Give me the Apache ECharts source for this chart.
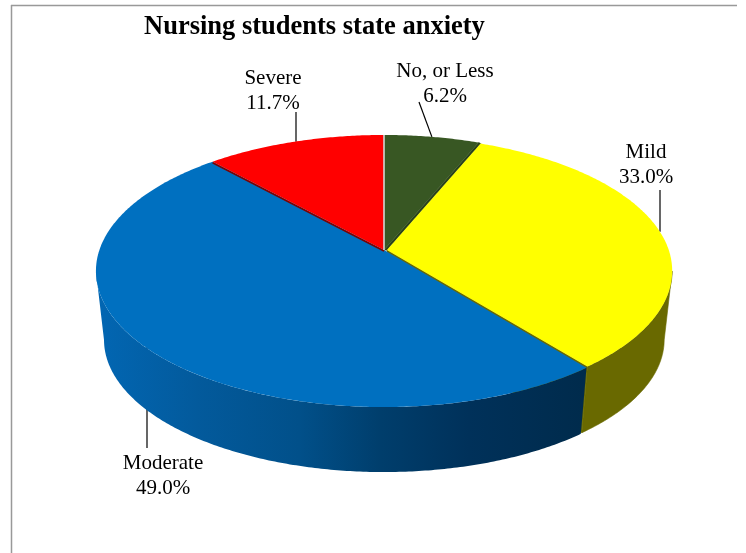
<!DOCTYPE html>
<html>
<head>
<meta charset="utf-8">
<style>html,body{margin:0;padding:0;background:#fff}#c{width:746px;height:553px}</style>
<script src="https://cdn.jsdelivr.net/npm/echarts@6/dist/echarts.min.js"></script>
</head>
<body>
<div id="c"></div>
<script>
var categories = ['No, or Less', 'Mild', 'Moderate', 'Severe'];
var values = [6.2, 33.0, 49.0, 11.7];
var topColors = ['#385723', '#ffff00', '#0070c0', '#ff0000'];
var titleText = 'Nursing students state anxiety';

var total = values.reduce(function (a, b) { return a + b; }, 0);
var FONT = '"Liberation Serif","Times New Roman",serif';
// view geometry of the tilted disc
var CX = 384, CY = 250, A = 284.6, B = 132.8, K = 0.1544, DEPTH_Y = 69.4, BOTTOM_SCALE = 0.972;
var sliceShift = [0, 3, 0, 0];
var sliceScale = [1, 0.99, 1, 1];
var innerWall = [null, '#696900', null, null];
var edgeLine = [null, null, null, '#7d0000'];
var wallColor = [null, '#696900', {
  type: 'linear', x: 100, y: 0, x2: 585, y2: 0, global: true,
  colorStops: [
    { offset: 0, color: '#0266b2' }, { offset: 0.2, color: '#035a9c' },
    { offset: 0.41, color: '#01508a' }, { offset: 0.58, color: '#003e6c' },
    { offset: 0.76, color: '#00315a' }, { offset: 1, color: '#002b4c' }
  ]
}, null];
var labelLayout = [
  { x: 445, y: 83.5, lx: 419, ly: 102, vertical: false },
  { x: 646, y: 165, lx: 660, ly: 190, vertical: true },
  { x: 163, y: 476, lx: 147, ly: 448, vertical: true },
  { x: 273, y: 91, lx: 296, ly: 112, vertical: true }
];

function project(theta, i, lower) {
  var u = Math.sin(theta), v = -Math.cos(theta), w = 1 - K * v;
  var s = (lower ? BOTTOM_SCALE : 1) * sliceScale[i];
  return [CX + sliceShift[i] + s * A * u / w, CY + (lower ? DEPTH_Y : 0) + s * B * v / w];
}
function apex(i, lower) {
  return [CX + sliceShift[i], CY + (lower ? DEPTH_Y : 0)];
}
function arc(t0, t1, i, lower) {
  var pts = [], n = Math.max(2, Math.ceil(Math.abs(t1 - t0) / 0.01));
  for (var j = 0; j <= n; j++) pts.push(project(t0 + (t1 - t0) * j / n, i, lower));
  return pts;
}
// the wall is seen between the two points where the rim turns back
var VIS0 = 99 * Math.PI / 180, VIS1 = 261 * Math.PI / 180;

function renderItem(params, api) {
  var i = params.dataIndex, val = api.value(0), before = 0;
  for (var q = 0; q < i; q++) before += values[q];
  var t0 = before / total * 2 * Math.PI, t1 = (before + val) / total * 2 * Math.PI;
  var kids = [], base = 10 + i * 10;
  var mid = (t0 + t1) / 2, anchor = project(mid, i, false), lay = labelLayout[i];
  // leader
  kids.push({ type: 'line', z2: 1, silent: true,
    shape: { x1: lay.vertical ? lay.lx : anchor[0], y1: anchor[1], x2: lay.lx, y2: lay.ly },
    style: { stroke: '#000', lineWidth: 1.2 } });
  // outer wall
  var w0 = Math.max(t0, VIS0), w1 = Math.min(t1, VIS1);
  if (wallColor[i] && w1 > w0) {
    var flat = typeof wallColor[i] === 'string';
    kids.push({ type: 'polygon', z2: base, silent: true,
      shape: { points: arc(w0, w1, i, false).concat(arc(w0, w1, i, true).reverse()) },
      style: { fill: wallColor[i], stroke: flat ? wallColor[i] : null, lineWidth: flat ? 0.6 : 0 } });
  }
  // inner wall exposed by the slice shift
  if (innerWall[i]) {
    kids.push({ type: 'polygon', z2: base + 1, silent: true,
      shape: { points: [apex(i, false), project(t1, i, false), project(t1, i, true), apex(i, true)] },
      style: { fill: innerWall[i], stroke: innerWall[i], lineWidth: 0.6 } });
  }
  // dark wedge between the first slice and the shifted next one
  if (i === 0) {
    kids.push({ type: 'polygon', z2: 40, silent: true,
      shape: { points: [apex(0), project(t1, 0), project(t1, 1), apex(1)] },
      style: { fill: '#2b431a', stroke: '#2b431a', lineWidth: 0.6 } });
  }
  // top
  kids.push({ type: 'polygon', z2: i === 1 ? 45 : base + 2 + (i === 0 ? 30 : 0), silent: true,
    shape: { points: [apex(i, false)].concat(arc(t0, t1, i, false)) },
    style: { fill: topColors[i] } });
  // edge shading
  if (edgeLine[i]) {
    kids.push({ type: 'line', z2: base + 3, silent: true,
      shape: { x1: apex(i)[0], y1: apex(i)[1] + 1, x2: project(t0, i)[0], y2: project(t0, i)[1] + 1 },
      style: { stroke: edgeLine[i], lineWidth: 1.6 } });
  }
  if (i === 3) {
    var e = project(t1, i);
    kids.push({ type: 'line', z2: base + 4, silent: true,
      shape: { x1: apex(i)[0], y1: apex(i)[1], x2: e[0], y2: e[1] },
      style: { stroke: '#d4d4d4', lineWidth: 1.6 } });
  }
  // label
  kids.push({ type: 'text', z2: 100, silent: true,
    style: { x: lay.x, y: lay.y, text: categories[i] + '\n' + val.toFixed(1) + '%',
      align: 'center', verticalAlign: 'middle', font: '21px ' + FONT, lineHeight: 25, fill: '#000' } });
  return { type: 'group', children: kids };
}

var chart = echarts.init(document.getElementById('c'), null, { renderer: 'canvas' });
chart.setOption({
  animation: false,
  backgroundColor: '#ffffff',
  title: { text: titleText, left: 139, top: 9,
    textStyle: { fontFamily: FONT, fontSize: 26.5, fontWeight: 'bold', color: '#000' } },
  graphic: [
    { type: 'line', silent: true, shape: { x1: 11, y1: 5.5, x2: 737, y2: 5.5 }, style: { stroke: '#999', lineWidth: 1.5 } },
    { type: 'line', silent: true, shape: { x1: 11.5, y1: 5, x2: 11.5, y2: 553 }, style: { stroke: '#999', lineWidth: 1.5 } }
  ],
  series: [{
    type: 'custom',
    coordinateSystem: 'none',
    renderItem: renderItem,
    data: values.map(function (v, i) { return { name: categories[i], value: [v] }; })
  }]
});
</script>
</body>
</html>
